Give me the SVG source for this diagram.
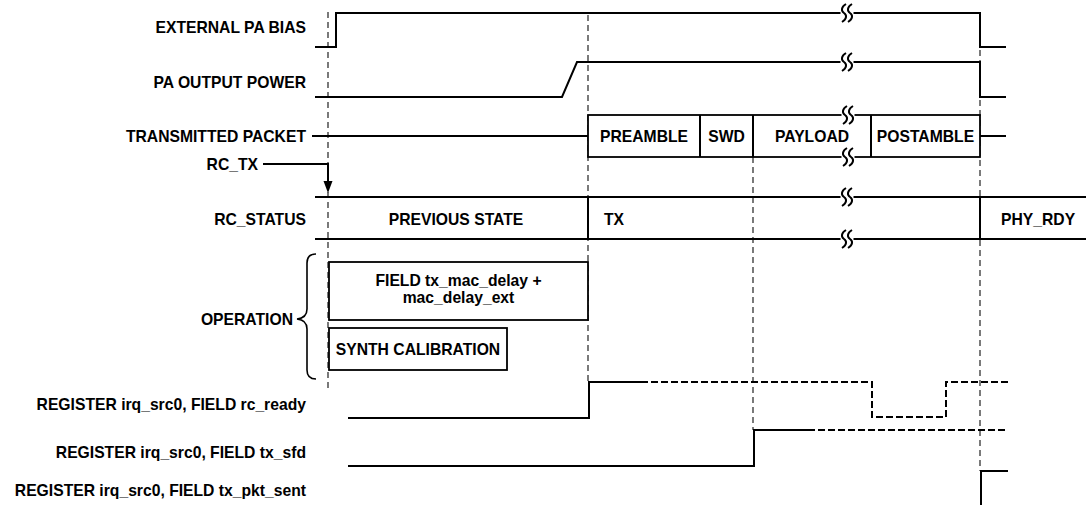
<svg xmlns="http://www.w3.org/2000/svg" width="1086" height="505" viewBox="0 0 1086 505">
<style>
text{font-family:"Liberation Sans",Arial,sans-serif;font-weight:bold;font-size:15.7px;fill:#000}
.r{text-anchor:end}
.m{text-anchor:middle}
.sig{fill:none;stroke:#000;stroke-width:2}
.sd{fill:none;stroke:#000;stroke-width:2;stroke-dasharray:7,3}
.box{fill:#fff;stroke:#000;stroke-width:1.8}
.vd{fill:none;stroke:#333;stroke-width:1.3;stroke-dasharray:6,4}
.bk{fill:none;stroke:#000;stroke-width:2}
.br{fill:none;stroke:#000;stroke-width:1.6}
</style>
<defs>
<g id="brk">
<rect x="-6.5" y="-3" width="13" height="6" fill="#fff"/>
<path class="bk" d="M-1,-9 C-6,-6 -6,-2 -3,0 C0,2 0,6 -5,9"/>
<path class="bk" d="M5,-9 C0,-6 0,-2 3,0 C6,2 6,6 1,9"/>
</g>
</defs>

<g id="guides">
<path class="vd" d="M328,12 V390"/>
<path class="vd" d="M588,15 V382"/>
<path class="vd" d="M753,157 V430"/>
<path class="vd" d="M980,50 V471"/>
</g>

<g id="ext-pa-bias">
<text class="r" x="306" y="33">EXTERNAL PA BIAS</text>
<path class="sig" d="M315,47 H336 V13 H980 V47 H1006"/>
<use href="#brk" x="847" y="13"/>
</g>

<g id="pa-output-power">
<text class="r" x="306" y="88">PA OUTPUT POWER</text>
<path class="sig" d="M315,97 H562 L577,62 H980 V97 H1006"/>
<use href="#brk" x="847" y="62"/>
</g>

<g id="transmitted-packet">
<text class="r" x="306" y="141.5">TRANSMITTED PACKET</text>
<path class="sig" d="M312,136 H588"/>
<path class="sig" stroke-width="2.5" d="M980,136 H1006"/>
<rect class="box" x="588" y="115" width="392" height="42"/>
<path class="sig" stroke-width="1.8" d="M700,115 V157 M753,115 V157 M871,115 V157"/>
<use href="#brk" x="848" y="115"/>
<use href="#brk" x="848" y="157"/>
<text class="m" x="644" y="141.5">PREAMBLE</text>
<text class="m" x="726.5" y="141.5">SWD</text>
<text class="m" x="812" y="141.5">PAYLOAD</text>
<text class="m" x="925.5" y="141.5">POSTAMBLE</text>
</g>

<g id="rc-tx">
<text class="r" x="258" y="169.5">RC_TX</text>
</g>

<g id="rc-status">
<text class="r" x="306" y="224.5">RC_STATUS</text>
<path class="sig" d="M315,197 H1086 M315,239 H1086 M588,197 V239 M980,197 V239"/>
<use href="#brk" x="847" y="197"/>
<use href="#brk" x="847" y="239"/>
<text class="m" x="456" y="224.5">PREVIOUS STATE</text>
<text x="604" y="224.5">TX</text>
<text x="1001" y="224.5">PHY_RDY</text>
</g>

<g id="operation">
<text class="r" x="293" y="324.5">OPERATION</text>
<path class="br" d="M316,254 Q307,254 307,263 V309 Q307,318 297,319 Q307,320 307,329 V370 Q307,379 316,379"/>
</g>

<g id="mac-delay">
<rect class="box" x="329" y="262" width="259" height="58"/>
<text class="m" x="458.5" y="285.5">FIELD tx_mac_delay +</text>
<text class="m" x="458.5" y="303">mac_delay_ext</text>
</g>

<g id="synth-cal">
<rect class="box" x="329" y="328" width="178" height="42"/>
<text class="m" x="418" y="354.5">SYNTH CALIBRATION</text>
</g>

<g id="rc-ready">
<text class="r" x="306" y="409.5">REGISTER irq_src0, FIELD rc_ready</text>
<path class="sig" d="M348,418 H589 V382 H641"/>
<path class="sd" d="M641,382 H872 V417 H946 V382 H1010"/>
</g>

<g id="tx-sfd">
<text class="r" x="306" y="457.5">REGISTER irq_src0, FIELD tx_sfd</text>
<path class="sig" d="M348,466 H754 V430 H808"/>
<path class="sd" d="M808,430 H1008"/>
</g>

<g id="tx-pkt-sent">
<text class="r" x="306" y="495.5">REGISTER irq_src0, FIELD tx_pkt_sent</text>
<path class="sig" d="M981,505 V471 H1008"/>
</g>

<g id="connectors">
<path class="sig" stroke-width="1.8" d="M263,164 H328 V183"/>
<polygon points="323.5,181 332.5,181 328,193" fill="#000"/>
</g>
</svg>
